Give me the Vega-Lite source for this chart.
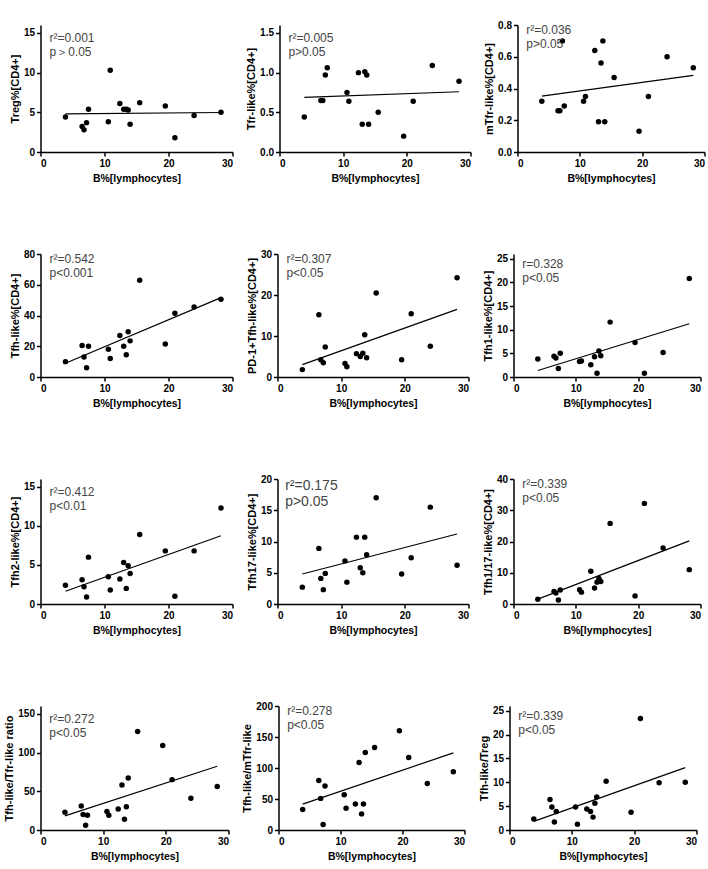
{
  "$schema": "https://vega.github.io/schema/vega-lite/v6.json",
  "padding": {"top": 20, "left": 3.5, "right": 2, "bottom": 2},
  "background": "white",
  "datasets": {
    "d": [
      {"x": 3.9, "treg": 4.4, "tfr": 0.44, "mtfr": 0.32, "tfh": 10, "pd1": 1.8, "tfh1": 3.8, "tfh2": 2.4, "tfh17": 2.7, "tfh117": 1.5, "rtfr": 23, "rmtfr": 33, "rtreg": 2.3},
      {"x": 6.5, "treg": 3.2, "tfr": 0.65, "mtfr": 0.26, "tfh": 20.5, "pd1": 15.2, "tfh1": 4.4, "tfh2": 3.1, "tfh17": 8.9, "tfh117": 4.0, "rtfr": 31, "rmtfr": 80, "rtreg": 6.4},
      {"x": 6.8, "treg": 2.8, "tfr": 0.65, "mtfr": 0.26, "tfh": 13, "pd1": 4.2, "tfh1": 4.0, "tfh2": 2.2, "tfh17": 4.1, "tfh117": 3.5, "rtfr": 20, "rmtfr": 51, "rtreg": 4.8},
      {"x": 7.2, "treg": 3.7, "tfr": 0.97, "mtfr": 0.70, "tfh": 6, "pd1": 3.5, "tfh1": 1.8, "tfh2": 0.9, "tfh17": 2.3, "tfh117": 1.3, "rtfr": 6, "rmtfr": 9, "rtreg": 1.7},
      {"x": 7.5, "treg": 5.4, "tfr": 1.06, "mtfr": 0.29, "tfh": 20, "pd1": 7.3, "tfh1": 5.0, "tfh2": 6.0, "tfh17": 4.9, "tfh117": 4.5, "rtfr": 19, "rmtfr": 71, "rtreg": 3.9},
      {"x": 10.6, "treg": 3.8, "tfr": 0.75, "mtfr": 0.32, "tfh": 18, "pd1": 3.3, "tfh1": 3.3, "tfh2": 3.5, "tfh17": 6.9, "tfh117": 4.6, "rtfr": 24, "rmtfr": 57, "rtreg": 4.8},
      {"x": 10.9, "treg": 10.3, "tfr": 0.64, "mtfr": 0.35, "tfh": 12, "pd1": 2.5, "tfh1": 3.4, "tfh2": 1.8, "tfh17": 3.5, "tfh117": 3.8, "rtfr": 19, "rmtfr": 35, "rtreg": 1.2},
      {"x": 12.4, "treg": 6.1, "tfr": 1.0, "mtfr": 0.64, "tfh": 27, "pd1": 5.7, "tfh1": 2.6, "tfh2": 3.2, "tfh17": 10.7, "tfh117": 10.5, "rtfr": 27, "rmtfr": 42, "rtreg": 4.4},
      {"x": 13.0, "treg": 5.4, "tfr": 0.35, "mtfr": 0.19, "tfh": 20, "pd1": 5.0, "tfh1": 4.3, "tfh2": 5.3, "tfh17": 5.8, "tfh117": 5.1, "rtfr": 58, "rmtfr": 109, "rtreg": 3.9},
      {"x": 13.4, "treg": 5.4, "tfr": 1.01, "mtfr": 0.56, "tfh": 14.5, "pd1": 5.8, "tfh1": 0.8, "tfh2": 2.0, "tfh17": 5.0, "tfh117": 7.0, "rtfr": 14, "rmtfr": 26, "rtreg": 2.7},
      {"x": 13.7, "treg": 5.3, "tfr": 0.97, "mtfr": 0.70, "tfh": 29.5, "pd1": 10.3, "tfh1": 5.5, "tfh2": 4.9, "tfh17": 10.7, "tfh117": 8.2, "rtfr": 30, "rmtfr": 42, "rtreg": 5.6},
      {"x": 14.0, "treg": 3.5, "tfr": 0.35, "mtfr": 0.19, "tfh": 23.5, "pd1": 4.7, "tfh1": 4.5, "tfh2": 3.9, "tfh17": 7.9, "tfh117": 7.2, "rtfr": 67, "rmtfr": 125, "rtreg": 6.9},
      {"x": 15.5, "treg": 6.2, "tfr": 0.5, "mtfr": 0.47, "tfh": 63, "pd1": 20.5, "tfh1": 11.6, "tfh2": 8.9, "tfh17": 17.0, "tfh117": 25.8, "rtfr": 127, "rmtfr": 133, "rtreg": 10.2},
      {"x": 19.5, "treg": 5.8, "tfr": 0.2, "mtfr": 0.13, "tfh": 21.5, "pd1": 4.2, "tfh1": 7.3, "tfh2": 6.8, "tfh17": 4.8, "tfh117": 2.6, "rtfr": 109, "rmtfr": 160, "rtreg": 3.7},
      {"x": 21.0, "treg": 1.8, "tfr": 0.64, "mtfr": 0.35, "tfh": 41.5, "pd1": 15.4, "tfh1": 0.8, "tfh2": 1.0, "tfh17": 7.4, "tfh117": 32.2, "rtfr": 65, "rmtfr": 117, "rtreg": 23.4},
      {"x": 24.0, "treg": 4.6, "tfr": 1.09, "mtfr": 0.60, "tfh": 45.5, "pd1": 7.5, "tfh1": 5.2, "tfh2": 6.8, "tfh17": 15.5, "tfh117": 17.9, "rtfr": 41, "rmtfr": 75, "rtreg": 9.9},
      {"x": 28.2, "treg": 5.0, "tfr": 0.89, "mtfr": 0.53, "tfh": 50.5, "pd1": 24.2, "tfh1": 20.8, "tfh2": 12.3, "tfh17": 6.2, "tfh117": 11.0, "rtfr": 56, "rmtfr": 94, "rtreg": 10.0}
    ]
  },
  "spacing": 65,
  "vconcat": [
    {"spacing": 12, "hconcat": [
      {"width": 192, "height": 127, "layer": [
        {"data": {"name": "d"}, "mark": {"type": "point", "filled": true, "color": "black", "size": 30, "opacity": 1}, "encoding": {"x": {"field": "x", "type": "quantitative", "scale": {"domain": [0, 30]}, "axis": {"values": [0, 10, 20, 30], "title": "B%[lymphocytes]"}}, "y": {"field": "treg", "type": "quantitative", "scale": {"domain": [0, 15]}, "axis": {"values": [0, 5, 10, 15], "title": "Treg%[CD4+]"}}}},
        {"data": {"name": "d"}, "transform": [{"regression": "treg", "on": "x"}], "mark": {"type": "line", "color": "black", "strokeWidth": 1.2}, "encoding": {"x": {"field": "x", "type": "quantitative", "axis": {"values": [0, 10, 20, 30], "title": "B%[lymphocytes]"}}, "y": {"field": "treg", "type": "quantitative", "axis": {"values": [0, 5, 10, 15], "title": "Treg%[CD4+]"}}}},
        {"data": {"values": [{}]}, "mark": {"type": "text", "text": ["r²=0.001", "p＞0.05"], "align": "left", "baseline": "top", "fontSize": 12, "color": "#444", "lineHeight": 14}, "encoding": {"x": {"datum": 1.4, "axis": {"values": [0, 10, 20, 30], "title": "B%[lymphocytes]"}}, "y": {"datum": 15, "axis": {"values": [0, 5, 10, 15], "title": "Treg%[CD4+]"}}}}
      ]},
      {"width": 191, "height": 127, "layer": [
        {"data": {"name": "d"}, "mark": {"type": "point", "filled": true, "color": "black", "size": 30, "opacity": 1}, "encoding": {"x": {"field": "x", "type": "quantitative", "scale": {"domain": [0, 30]}, "axis": {"values": [0, 10, 20, 30], "title": "B%[lymphocytes]"}}, "y": {"field": "tfr", "type": "quantitative", "scale": {"domain": [0, 1.5]}, "axis": {"values": [0, 0.5, 1, 1.5], "format": ".1f", "title": "Tfr-like%[CD4+]"}}}},
        {"data": {"name": "d"}, "transform": [{"regression": "tfr", "on": "x"}], "mark": {"type": "line", "color": "black", "strokeWidth": 1.2}, "encoding": {"x": {"field": "x", "type": "quantitative", "axis": {"values": [0, 10, 20, 30], "title": "B%[lymphocytes]"}}, "y": {"field": "tfr", "type": "quantitative", "axis": {"values": [0, 0.5, 1, 1.5], "format": ".1f", "title": "Tfr-like%[CD4+]"}}}},
        {"data": {"values": [{}]}, "mark": {"type": "text", "text": ["r²=0.005", "p>0.05"], "align": "left", "baseline": "top", "fontSize": 12, "color": "#444", "lineHeight": 14}, "encoding": {"x": {"datum": 1.4, "axis": {"values": [0, 10, 20, 30], "title": "B%[lymphocytes]"}}, "y": {"datum": 1.5, "axis": {"values": [0, 0.5, 1, 1.5], "format": ".1f", "title": "Tfr-like%[CD4+]"}}}}
      ]},
      {"width": 187, "height": 127, "layer": [
        {"data": {"name": "d"}, "mark": {"type": "point", "filled": true, "color": "black", "size": 30, "opacity": 1}, "encoding": {"x": {"field": "x", "type": "quantitative", "scale": {"domain": [0, 30]}, "axis": {"values": [0, 10, 20, 30], "title": "B%[lymphocytes]"}}, "y": {"field": "mtfr", "type": "quantitative", "scale": {"domain": [0, 0.8]}, "axis": {"values": [0, 0.2, 0.4, 0.6, 0.8], "format": ".1f", "title": "mTfr-like%[CD4+]"}}}},
        {"data": {"name": "d"}, "transform": [{"regression": "mtfr", "on": "x"}], "mark": {"type": "line", "color": "black", "strokeWidth": 1.2}, "encoding": {"x": {"field": "x", "type": "quantitative", "axis": {"values": [0, 10, 20, 30], "title": "B%[lymphocytes]"}}, "y": {"field": "mtfr", "type": "quantitative", "axis": {"values": [0, 0.2, 0.4, 0.6, 0.8], "format": ".1f", "title": "mTfr-like%[CD4+]"}}}},
        {"data": {"values": [{}]}, "mark": {"type": "text", "text": ["r²=0.036", "p>0.05"], "align": "left", "baseline": "top", "fontSize": 12, "color": "#444", "lineHeight": 14}, "encoding": {"x": {"datum": 1.4, "axis": {"values": [0, 10, 20, 30], "title": "B%[lymphocytes]"}}, "y": {"datum": 0.8, "axis": {"values": [0, 0.2, 0.4, 0.6, 0.8], "format": ".1f", "title": "mTfr-like%[CD4+]"}}}}
      ]}
    ]},
    {"spacing": 12, "hconcat": [
      {"width": 192, "height": 123, "layer": [
        {"data": {"name": "d"}, "mark": {"type": "point", "filled": true, "color": "black", "size": 30, "opacity": 1}, "encoding": {"x": {"field": "x", "type": "quantitative", "scale": {"domain": [0, 30]}, "axis": {"values": [0, 10, 20, 30], "title": "B%[lymphocytes]"}}, "y": {"field": "tfh", "type": "quantitative", "scale": {"domain": [0, 80]}, "axis": {"values": [0, 20, 40, 60, 80], "title": "Tfh-like%[CD4+]"}}}},
        {"data": {"name": "d"}, "transform": [{"regression": "tfh", "on": "x"}], "mark": {"type": "line", "color": "black", "strokeWidth": 1.2}, "encoding": {"x": {"field": "x", "type": "quantitative", "axis": {"values": [0, 10, 20, 30], "title": "B%[lymphocytes]"}}, "y": {"field": "tfh", "type": "quantitative", "axis": {"values": [0, 20, 40, 60, 80], "title": "Tfh-like%[CD4+]"}}}},
        {"data": {"values": [{}]}, "mark": {"type": "text", "text": ["r²=0.542", "p<0.001"], "align": "left", "baseline": "top", "fontSize": 12, "color": "#444", "lineHeight": 14}, "encoding": {"x": {"datum": 1.4, "axis": {"values": [0, 10, 20, 30], "title": "B%[lymphocytes]"}}, "y": {"datum": 80, "axis": {"values": [0, 20, 40, 60, 80], "title": "Tfh-like%[CD4+]"}}}}
      ]},
      {"width": 191, "height": 123, "layer": [
        {"data": {"name": "d"}, "mark": {"type": "point", "filled": true, "color": "black", "size": 30, "opacity": 1}, "encoding": {"x": {"field": "x", "type": "quantitative", "scale": {"domain": [0, 30]}, "axis": {"values": [0, 10, 20, 30], "title": "B%[lymphocytes]"}}, "y": {"field": "pd1", "type": "quantitative", "scale": {"domain": [0, 30]}, "axis": {"values": [0, 10, 20, 30], "title": "PD-1+Tfh-like%[CD4+]"}}}},
        {"data": {"name": "d"}, "transform": [{"regression": "pd1", "on": "x"}], "mark": {"type": "line", "color": "black", "strokeWidth": 1.2}, "encoding": {"x": {"field": "x", "type": "quantitative", "axis": {"values": [0, 10, 20, 30], "title": "B%[lymphocytes]"}}, "y": {"field": "pd1", "type": "quantitative", "axis": {"values": [0, 10, 20, 30], "title": "PD-1+Tfh-like%[CD4+]"}}}},
        {"data": {"values": [{}]}, "mark": {"type": "text", "text": ["r²=0.307", "p<0.05"], "align": "left", "baseline": "top", "fontSize": 12, "color": "#444", "lineHeight": 14}, "encoding": {"x": {"datum": 1.4, "axis": {"values": [0, 10, 20, 30], "title": "B%[lymphocytes]"}}, "y": {"datum": 30, "axis": {"values": [0, 10, 20, 30], "title": "PD-1+Tfh-like%[CD4+]"}}}}
      ]},
      {"width": 187, "height": 123, "layer": [
        {"data": {"name": "d"}, "mark": {"type": "point", "filled": true, "color": "black", "size": 30, "opacity": 1}, "encoding": {"x": {"field": "x", "type": "quantitative", "scale": {"domain": [0, 30]}, "axis": {"values": [0, 10, 20, 30], "title": "B%[lymphocytes]"}}, "y": {"field": "tfh1", "type": "quantitative", "scale": {"domain": [0, 25]}, "axis": {"values": [0, 5, 10, 15, 20, 25], "title": "Tfh1-like%[CD4+]"}}}},
        {"data": {"name": "d"}, "transform": [{"regression": "tfh1", "on": "x"}], "mark": {"type": "line", "color": "black", "strokeWidth": 1.2}, "encoding": {"x": {"field": "x", "type": "quantitative", "axis": {"values": [0, 10, 20, 30], "title": "B%[lymphocytes]"}}, "y": {"field": "tfh1", "type": "quantitative", "axis": {"values": [0, 5, 10, 15, 20, 25], "title": "Tfh1-like%[CD4+]"}}}},
        {"data": {"values": [{}]}, "mark": {"type": "text", "text": ["r=0.328", "p<0.05"], "align": "left", "baseline": "top", "fontSize": 12, "color": "#444", "lineHeight": 14}, "encoding": {"x": {"datum": 1.4, "axis": {"values": [0, 10, 20, 30], "title": "B%[lymphocytes]"}}, "y": {"datum": 25, "axis": {"values": [0, 5, 10, 15, 20, 25], "title": "Tfh1-like%[CD4+]"}}}}
      ]}
    ]},
    {"spacing": 12, "hconcat": [
      {"width": 192, "height": 125, "layer": [
        {"data": {"name": "d"}, "mark": {"type": "point", "filled": true, "color": "black", "size": 30, "opacity": 1}, "encoding": {"x": {"field": "x", "type": "quantitative", "scale": {"domain": [0, 30]}, "axis": {"values": [0, 10, 20, 30], "title": "B%[lymphocytes]"}}, "y": {"field": "tfh2", "type": "quantitative", "scale": {"domain": [0, 15]}, "axis": {"values": [0, 5, 10, 15], "title": "Tfh2-like%[CD4+]"}}}},
        {"data": {"name": "d"}, "transform": [{"regression": "tfh2", "on": "x"}], "mark": {"type": "line", "color": "black", "strokeWidth": 1.2}, "encoding": {"x": {"field": "x", "type": "quantitative", "axis": {"values": [0, 10, 20, 30], "title": "B%[lymphocytes]"}}, "y": {"field": "tfh2", "type": "quantitative", "axis": {"values": [0, 5, 10, 15], "title": "Tfh2-like%[CD4+]"}}}},
        {"data": {"values": [{}]}, "mark": {"type": "text", "text": ["r²=0.412", "p<0.01"], "align": "left", "baseline": "top", "fontSize": 12, "color": "#444", "lineHeight": 14}, "encoding": {"x": {"datum": 1.4, "axis": {"values": [0, 10, 20, 30], "title": "B%[lymphocytes]"}}, "y": {"datum": 15, "axis": {"values": [0, 5, 10, 15], "title": "Tfh2-like%[CD4+]"}}}}
      ]},
      {"width": 191, "height": 125, "layer": [
        {"data": {"name": "d"}, "mark": {"type": "point", "filled": true, "color": "black", "size": 30, "opacity": 1}, "encoding": {"x": {"field": "x", "type": "quantitative", "scale": {"domain": [0, 30]}, "axis": {"values": [0, 10, 20, 30], "title": "B%[lymphocytes]"}}, "y": {"field": "tfh17", "type": "quantitative", "scale": {"domain": [0, 20]}, "axis": {"values": [0, 5, 10, 15, 20], "title": "Tfh17-like%[CD4+]"}}}},
        {"data": {"name": "d"}, "transform": [{"regression": "tfh17", "on": "x"}], "mark": {"type": "line", "color": "black", "strokeWidth": 1.2}, "encoding": {"x": {"field": "x", "type": "quantitative", "axis": {"values": [0, 10, 20, 30], "title": "B%[lymphocytes]"}}, "y": {"field": "tfh17", "type": "quantitative", "axis": {"values": [0, 5, 10, 15, 20], "title": "Tfh17-like%[CD4+]"}}}},
        {"data": {"values": [{}]}, "mark": {"type": "text", "text": ["r²=0.175", "p>0.05"], "align": "left", "baseline": "top", "fontSize": 14, "color": "#444", "lineHeight": 16}, "encoding": {"x": {"datum": 1.2, "axis": {"values": [0, 10, 20, 30], "title": "B%[lymphocytes]"}}, "y": {"datum": 20, "axis": {"values": [0, 5, 10, 15, 20], "title": "Tfh17-like%[CD4+]"}}}}
      ]},
      {"width": 187, "height": 125, "layer": [
        {"data": {"name": "d"}, "mark": {"type": "point", "filled": true, "color": "black", "size": 30, "opacity": 1}, "encoding": {"x": {"field": "x", "type": "quantitative", "scale": {"domain": [0, 30]}, "axis": {"values": [0, 10, 20, 30], "title": "B%[lymphocytes]"}}, "y": {"field": "tfh117", "type": "quantitative", "scale": {"domain": [0, 40]}, "axis": {"values": [0, 10, 20, 30, 40], "title": "Tfh1/17-like%[CD4+]"}}}},
        {"data": {"name": "d"}, "transform": [{"regression": "tfh117", "on": "x"}], "mark": {"type": "line", "color": "black", "strokeWidth": 1.2}, "encoding": {"x": {"field": "x", "type": "quantitative", "axis": {"values": [0, 10, 20, 30], "title": "B%[lymphocytes]"}}, "y": {"field": "tfh117", "type": "quantitative", "axis": {"values": [0, 10, 20, 30, 40], "title": "Tfh1/17-like%[CD4+]"}}}},
        {"data": {"values": [{}]}, "mark": {"type": "text", "text": ["r²=0.339", "p<0.05"], "align": "left", "baseline": "top", "fontSize": 12, "color": "#444", "lineHeight": 14}, "encoding": {"x": {"datum": 1.4, "axis": {"values": [0, 10, 20, 30], "title": "B%[lymphocytes]"}}, "y": {"datum": 40, "axis": {"values": [0, 10, 20, 30, 40], "title": "Tfh1/17-like%[CD4+]"}}}}
      ]}
    ]},
    {"spacing": 12, "hconcat": [
      {"width": 188, "height": 124, "layer": [
        {"data": {"name": "d"}, "mark": {"type": "point", "filled": true, "color": "black", "size": 30, "opacity": 1}, "encoding": {"x": {"field": "x", "type": "quantitative", "scale": {"domain": [0, 30]}, "axis": {"values": [0, 10, 20, 30], "title": "B%[lymphocytes]"}}, "y": {"field": "rtfr", "type": "quantitative", "scale": {"domain": [0, 150]}, "axis": {"values": [0, 50, 100, 150], "title": "Tfh-like/Tfr-like ratio"}}}},
        {"data": {"name": "d"}, "transform": [{"regression": "rtfr", "on": "x"}], "mark": {"type": "line", "color": "black", "strokeWidth": 1.2}, "encoding": {"x": {"field": "x", "type": "quantitative", "axis": {"values": [0, 10, 20, 30], "title": "B%[lymphocytes]"}}, "y": {"field": "rtfr", "type": "quantitative", "axis": {"values": [0, 50, 100, 150], "title": "Tfh-like/Tfr-like ratio"}}}},
        {"data": {"values": [{}]}, "mark": {"type": "text", "text": ["r²=0.272", "p<0.05"], "align": "left", "baseline": "top", "fontSize": 12, "color": "#444", "lineHeight": 14}, "encoding": {"x": {"datum": 1.4, "axis": {"values": [0, 10, 20, 30], "title": "B%[lymphocytes]"}}, "y": {"datum": 150, "axis": {"values": [0, 50, 100, 150], "title": "Tfh-like/Tfr-like ratio"}}}}
      ]},
      {"width": 186, "height": 124, "layer": [
        {"data": {"name": "d"}, "mark": {"type": "point", "filled": true, "color": "black", "size": 30, "opacity": 1}, "encoding": {"x": {"field": "x", "type": "quantitative", "scale": {"domain": [0, 30]}, "axis": {"values": [0, 10, 20, 30], "title": "B%[lymphocytes]"}}, "y": {"field": "rmtfr", "type": "quantitative", "scale": {"domain": [0, 200]}, "axis": {"values": [0, 50, 100, 150, 200], "title": "Tfh-like/mTfr-like"}}}},
        {"data": {"name": "d"}, "transform": [{"regression": "rmtfr", "on": "x"}], "mark": {"type": "line", "color": "black", "strokeWidth": 1.2}, "encoding": {"x": {"field": "x", "type": "quantitative", "axis": {"values": [0, 10, 20, 30], "title": "B%[lymphocytes]"}}, "y": {"field": "rmtfr", "type": "quantitative", "axis": {"values": [0, 50, 100, 150, 200], "title": "Tfh-like/mTfr-like"}}}},
        {"data": {"values": [{}]}, "mark": {"type": "text", "text": ["r²=0.278", "p<0.05"], "align": "left", "baseline": "top", "fontSize": 12, "color": "#444", "lineHeight": 14}, "encoding": {"x": {"datum": 1.4, "axis": {"values": [0, 10, 20, 30], "title": "B%[lymphocytes]"}}, "y": {"datum": 200, "axis": {"values": [0, 50, 100, 150, 200], "title": "Tfh-like/mTfr-like"}}}}
      ]},
      {"width": 187, "height": 124, "layer": [
        {"data": {"name": "d"}, "mark": {"type": "point", "filled": true, "color": "black", "size": 30, "opacity": 1}, "encoding": {"x": {"field": "x", "type": "quantitative", "scale": {"domain": [0, 30]}, "axis": {"values": [0, 10, 20, 30], "title": "B%[lymphocytes]"}}, "y": {"field": "rtreg", "type": "quantitative", "scale": {"domain": [0, 25]}, "axis": {"values": [0, 5, 10, 15, 20, 25], "title": "Tfh-like/Treg"}}}},
        {"data": {"name": "d"}, "transform": [{"regression": "rtreg", "on": "x"}], "mark": {"type": "line", "color": "black", "strokeWidth": 1.2}, "encoding": {"x": {"field": "x", "type": "quantitative", "axis": {"values": [0, 10, 20, 30], "title": "B%[lymphocytes]"}}, "y": {"field": "rtreg", "type": "quantitative", "axis": {"values": [0, 5, 10, 15, 20, 25], "title": "Tfh-like/Treg"}}}},
        {"data": {"values": [{}]}, "mark": {"type": "text", "text": ["r²=0.339", "p<0.05"], "align": "left", "baseline": "top", "fontSize": 12, "color": "#444", "lineHeight": 14}, "encoding": {"x": {"datum": 1.4, "axis": {"values": [0, 10, 20, 30], "title": "B%[lymphocytes]"}}, "y": {"datum": 25, "axis": {"values": [0, 5, 10, 15, 20, 25], "title": "Tfh-like/Treg"}}}}
      ]}
    ]}
  ],
  "config": {
    "font": "Liberation Sans",
    "view": {"stroke": null},
    "concat": {"spacing": 12},
    "axis": {"grid": false, "domainColor": "black", "domainWidth": 1.5, "tickColor": "black", "tickWidth": 1.5, "tickSize": 4, "labelFont": "Liberation Sans", "labelFontSize": 10, "labelFontWeight": "bold", "labelColor": "black", "labelPadding": 2, "labelOverlap": false, "titleFont": "Liberation Sans", "titleFontSize": 11, "titleFontWeight": "bold", "titleColor": "black"},
    "axisX": {"titlePadding": 5, "titleFontSize": 10.5},
    "axisY": {"titlePadding": 3}
  }
}
